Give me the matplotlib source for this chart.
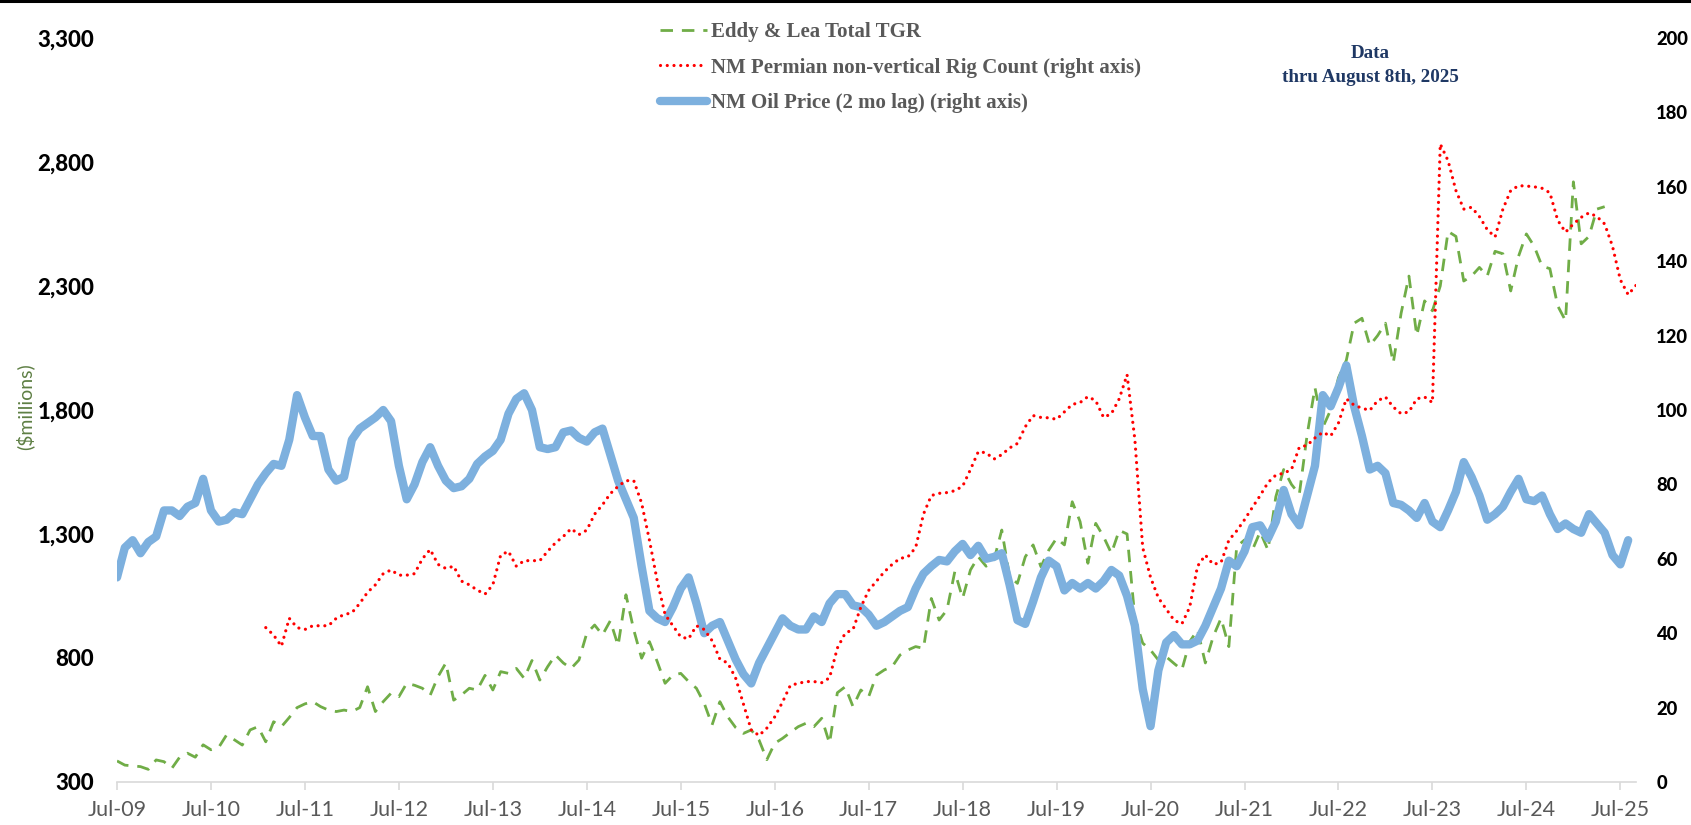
import numpy as np
import pandas as pd
import matplotlib
matplotlib.use("Agg")
import matplotlib.pyplot as plt
from matplotlib.lines import Line2D
from matplotlib.ticker import FuncFormatter

# ---------------- data (monthly) ----------------
tgr_start = "2009-07"
tgr = [385, 368, 365, 362, 351, 389, 382, 355, 400, 416, 400, 450, 430, 440, 490, 470, 449, 510, 523, 462,
       543, 523, 560, 600, 615, 624, 604, 590, 584, 590, 584, 600, 684, 584, 624, 658, 644, 698, 690, 678,
       650, 725, 780, 630, 651, 678, 671, 730, 671, 745, 738, 758, 718, 790, 711, 765, 812, 780, 758, 792,
       900, 933, 893, 950, 850, 1055, 913, 799, 866, 785, 698, 731, 738, 705, 678, 617, 530, 624, 563, 520,
       496, 510, 469, 390, 456, 476, 500, 523, 537, 523, 557, 456, 660, 684, 604, 671, 644, 731, 752, 765,
       812, 832, 846, 839, 1040, 953, 994, 1148, 1041, 1155, 1208, 1170, 1195, 1316, 1128, 1101, 1208, 1256, 1168, 1235,
       1283, 1256, 1430, 1350, 1182, 1343, 1289, 1222, 1315, 1300, 960, 860, 832, 792, 805, 778, 752, 866, 913, 780,
       886, 960, 846, 1249, 1276, 1235, 1309, 1235, 1450, 1560, 1500, 1460, 1700, 1890, 1730, 1800, 1930, 2000, 2150, 2170,
       2060, 2100, 2150, 1990, 2190, 2340, 2100, 2240, 2200, 2300, 2520, 2500, 2320, 2340, 2375, 2340, 2440, 2430, 2280, 2420,
       2510, 2460, 2380, 2370, 2220, 2160, 2720, 2470, 2500, 2610, 2620]

rig_start = "2011-02"
rigs = [41.5, 39.5, 36.5, 44, 41.5, 41, 42, 42, 42, 44, 45, 45.5, 48, 51, 53, 56, 57, 55.6, 55.6, 56,
        60, 62.5, 58.5, 57.4, 58, 54, 53, 51.6, 50.5, 53, 61, 62, 58, 59.5, 59.5, 59.5, 62, 64.3, 66, 68.1,
        66.5, 67.7, 72, 74.5, 77.5, 79.5, 81, 81, 75, 65, 54, 45, 42, 39, 38.5, 42, 41, 38, 33, 32,
        28, 21, 14, 12.5, 14.5, 17.5, 21.5, 26, 26.5, 27, 27, 26.7, 28, 36, 40, 41, 47, 51.5, 54, 56.5,
        58.5, 60.1, 60.5, 63, 72, 77, 77.6, 77.8, 78.3, 79.5, 84, 88.8, 88.5, 86.8, 88, 89.8, 91, 95.5, 98.5, 98,
        97.9, 97.5, 99.5, 101.5, 102, 103.6, 102.5, 98, 99, 103, 109.5, 92, 63, 55, 49.5, 46.5, 43.5, 42.5, 47, 58,
        61, 58.5, 59, 65, 67.5, 70.5, 73.8, 77, 80.5, 82.5, 83, 84, 90, 90.5, 92.5, 94, 93, 96.5, 103, 101.3,
        100.5, 99.9, 102.5, 103.5, 100.8, 99, 99.5, 103, 103.5, 102, 171.5, 167, 159, 154, 154.5, 152, 148.5, 146.5, 154, 159,
        160.3, 160.2, 160, 159.6, 158.4, 151, 147.8, 150, 151.8, 153, 152, 150, 144, 135, 131, 133.5]

oil_start = "2009-07"
oil = [55, 63, 65, 61.5, 64.5, 66, 73, 73, 71.5, 74, 75, 81.5, 73, 70, 70.5, 72.5, 72, 76, 80, 83,
       85.5, 85, 92, 104, 98, 93, 93, 84, 81, 82, 92, 95, 96.5, 98, 100, 97, 85, 76, 80, 86,
       90, 85, 81, 79, 79.5, 81.5, 85.5, 87.5, 89, 92, 99, 103, 104.5, 100, 90, 89.5, 90, 94, 94.5, 92.5,
       91.5, 94, 95, 88, 81, 76, 71, 58, 46, 44, 43, 47, 52, 55, 48, 40, 42, 43, 38, 33,
       29, 26.5, 32, 36, 40, 44, 42, 41, 41, 44.5, 43, 48, 50.5, 50.5, 47.5, 47, 45, 42, 43, 44.5,
       46, 47, 52, 56, 58, 59.7, 59.3, 62, 64, 61, 63.5, 60, 60.5, 61.5, 53, 43.5, 42.5, 48.5, 55, 59.5,
       58, 51.5, 53.5, 52, 53.5, 52, 54, 57, 55.5, 50, 42, 25, 15, 30, 37.5, 39.5, 37, 37, 38, 42,
       47, 52, 59.5, 58, 62, 68.5, 69, 65.5, 70, 78.5, 72, 69, 77, 85, 104, 101, 106, 112, 101, 93,
       84, 85, 83, 75, 74.5, 73, 71, 75, 70, 68.5, 73, 78, 86, 82, 77, 70.5, 72, 74, 78, 81.5,
       76, 75.5, 77, 72, 68, 69.5, 68, 67, 72, 69.5, 67, 61, 58.5, 65]

tick_labels = ["Jul-09", "Jul-10", "Jul-11", "Jul-12", "Jul-13", "Jul-14", "Jul-15", "Jul-16", "Jul-17",
               "Jul-18", "Jul-19", "Jul-20", "Jul-21", "Jul-22", "Jul-23", "Jul-24", "Jul-25"]

labels = ["Eddy & Lea Total TGR",
          "NM Permian non-vertical Rig Count (right axis)",
          "NM Oil Price (2 mo lag) (right axis)"]

# ---------------- helpers ----------------
base = pd.Period("2009-07", freq="M")


def month_index(start, n):
    s = pd.Period(start, freq="M")
    off = (s - base).n
    return np.arange(off, off + n)


x_tgr = month_index(tgr_start, len(tgr))
x_rig = month_index(rig_start, len(rigs))
x_oil = month_index(oil_start, len(oil))
tick_pos = [(pd.Period(pd.to_datetime(t, format="%b-%y"), freq="M") - base).n for t in tick_labels]

# ---------------- figure ----------------
W, H = 1691, 825
fig = plt.figure(figsize=(W / 100, H / 100), dpi=100)
fig.patch.set_facecolor("white")

L, R, B, T = 117, 1636, 782, 38
ax = fig.add_axes([L / W, 1 - B / H, (R - L) / W, (B - T) / H])
ax2 = ax.twinx()

GREEN = "#70AD47"
RED = "#FF0000"
BLUE = "#7DB0DE"
GRID = "#D9D9D9"
TXT = "#595959"

l1, = ax.plot(x_tgr, tgr, color=GREEN, lw=2.0, dashes=(4.5, 3.2), solid_capstyle="butt",
              dash_capstyle="butt", zorder=2)
l3, = ax2.plot(x_oil, oil, color=BLUE, lw=6.0, solid_capstyle="round", solid_joinstyle="round", zorder=3)
l2, = ax2.plot(x_rig, rigs, color=RED, lw=2.3, dashes=(0.01, 2.1), dash_capstyle="round", zorder=4)

ax.set_xlim(0, 194)
ax.set_ylim(300, 3300)
ax2.set_ylim(0, 200)

ax.set_yticks(np.arange(300, 3301, 500))
ax2.set_yticks(np.arange(0, 201, 20))
ax.yaxis.set_major_formatter(FuncFormatter(lambda v, p: f"{int(v):,}"))

ax.set_xticks(tick_pos)
ax.set_xticklabels(tick_labels)

for a in (ax, ax2):
    for s in a.spines.values():
        s.set_visible(False)
ax.spines["bottom"].set_visible(True)
ax.spines["bottom"].set_color(GRID)
ax.spines["bottom"].set_linewidth(1.2)

ax.tick_params(axis="x", direction="out", length=6, width=1.2, color=GRID, pad=7,
               labelsize=15.5, labelcolor=TXT)
ax.tick_params(axis="y", length=0, pad=16.5, labelsize=16)
ax2.tick_params(axis="y", length=0, pad=14.5, labelsize=13.3)
for lab in ax.get_xticklabels():
    lab.set_fontfamily("Lato")
for lab in ax.get_yticklabels() + ax2.get_yticklabels():
    lab.set_fontfamily("Lato")
    lab.set_fontweight(900)
    lab.set_color("black")

ax.set_zorder(1)
ax2.set_zorder(2)
ax.patch.set_visible(False)
ax2.patch.set_visible(False)

# y label
fig.text(25 / W, 1 - 407 / H, "($millions)", rotation=90, ha="center", va="center",
         fontsize=14, color="#5E7F44", family="Lato")

# legend
leg = fig.legend([l1, l2, l3], labels, loc="upper left",
                 bbox_to_anchor=(660 / W, 1 - 22 / H), frameon=False,
                 borderpad=0, borderaxespad=0, handlelength=2.25, handletextpad=0.2,
                 labelspacing=0.75,
                 prop={"family": "Liberation Serif", "weight": "bold", "size": 15})
for t in leg.get_texts():
    t.set_color(TXT)

# data note
fig.text(1370 / W, 1 - 53 / H, "Data", ha="center", va="center", fontsize=13.7,
         family="Liberation Serif", weight="bold", color="#1F3864")
fig.text(1370 / W, 1 - 77 / H, "thru August 8th, 2025", ha="center", va="center", fontsize=13.7,
         family="Liberation Serif", weight="bold", color="#1F3864")

# top border line
fig.add_artist(Line2D([0, 1], [1 - 1.2 / H, 1 - 1.2 / H], transform=fig.transFigure,
                      color="black", lw=2.2))

fig.savefig("out.png", dpi=100, facecolor="white")
